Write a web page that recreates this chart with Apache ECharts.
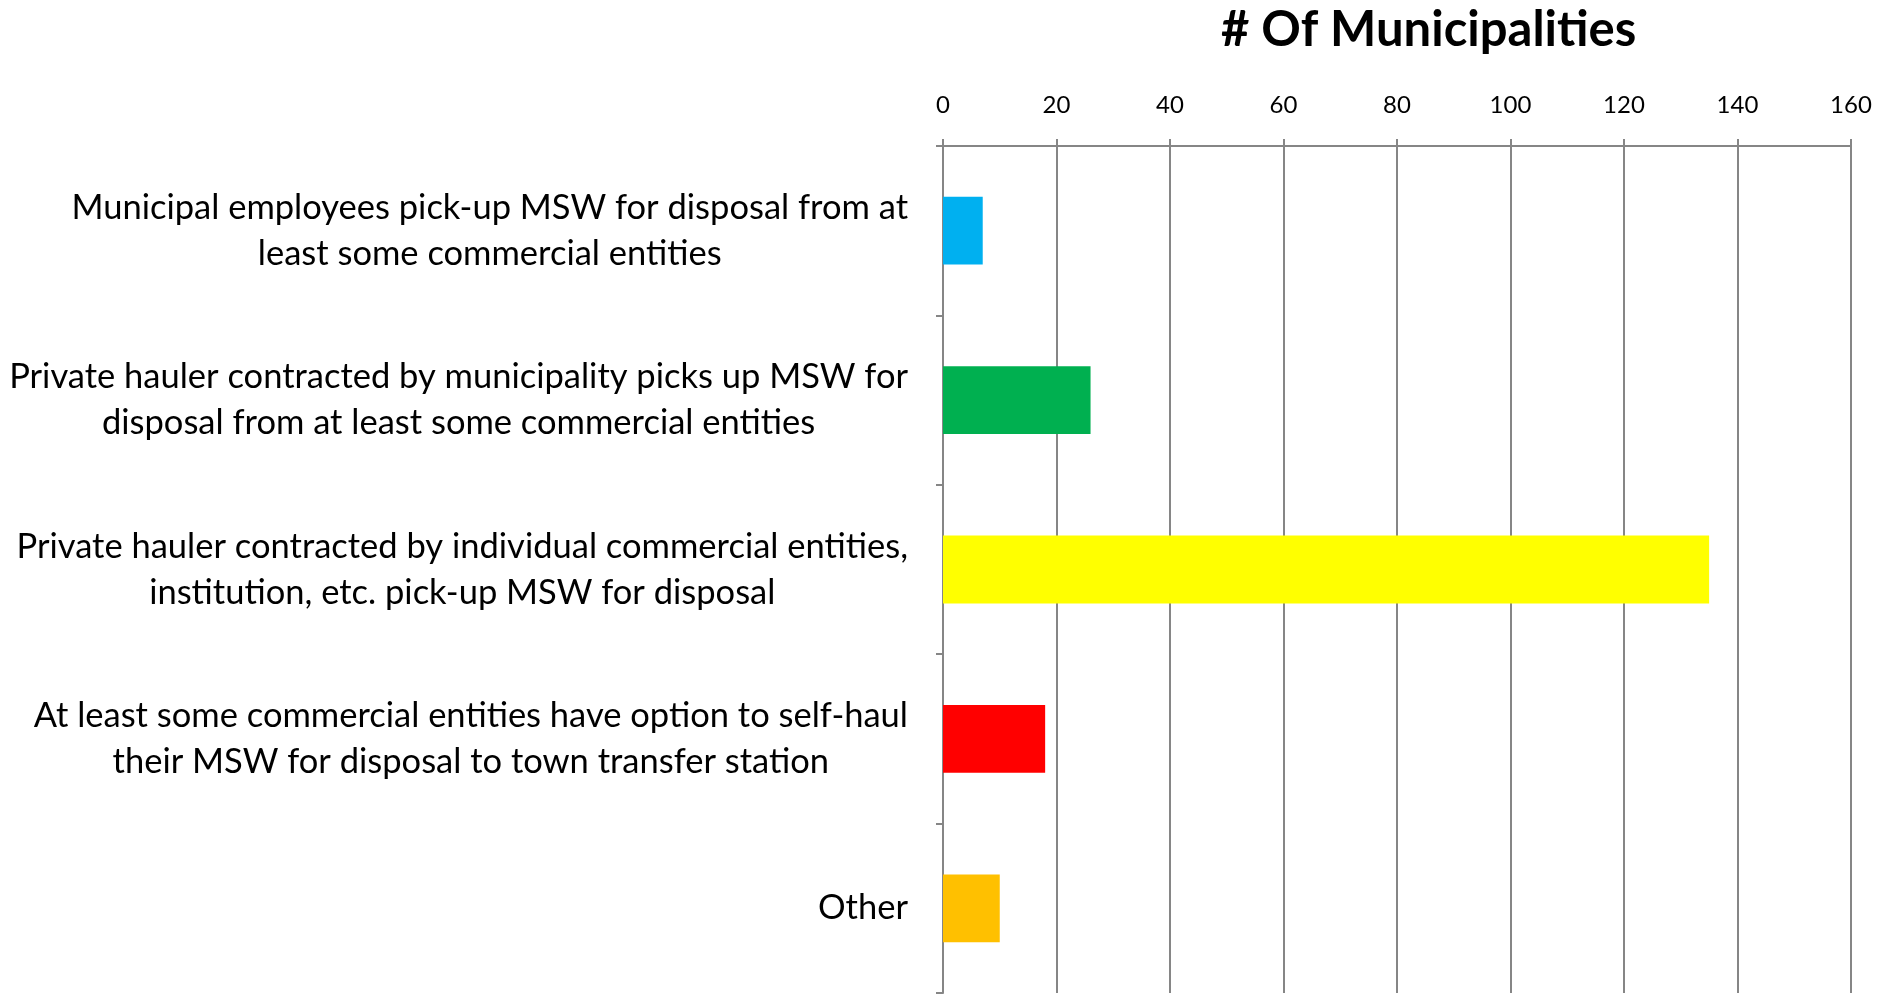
<!DOCTYPE html>
<html>
<head>
<meta charset="utf-8">
<script src="https://cdn.jsdelivr.net/npm/echarts@6/dist/echarts.min.js"></script>
<style>
    html, body { margin: 0; padding: 0; background: #fff; }
    #chart { width: 1892px; height: 994px; }
</style>
</head>
<body>
<div id="chart"></div>
<script>
var categories = [
    'Municipal employees pick-up MSW for disposal from at\nleast some commercial entities',
    'Private hauler contracted by municipality picks up MSW for\ndisposal from at least some commercial entities',
    'Private hauler contracted by individual commercial entities,\ninstitution, etc. pick-up MSW for disposal',
    'At least some commercial entities have option to self-haul\ntheir MSW for disposal to town transfer station',
    'Other'
];
var counts = [7, 26, 135, 18, 10];
var barColors = ['#00B0F0', '#00B050', '#FFFF00', '#FF0000', '#FFC000'];

var chart = echarts.init(document.getElementById('chart'));
var fontName = 'Lato';

var option = {
    animation: false,
    title: {
        text: '# Of Municipalities',
        left: 1216,
        top: 1,
        textStyle: {
            fontFamily: fontName,
            fontWeight: 'bold',
            fontSize: 49,
            color: '#000'
        }
    },
    grid: {
        left: 943,
        right: 41,
        top: 146,
        bottom: 1,
        containLabel: false
    },
    xAxis: {
        type: 'value',
        position: 'top',
        min: 0,
        max: 160,
        interval: 20,
        axisLine: { show: true, lineStyle: { color: '#868686', width: 2 } },
        axisTick: { show: true, length: 7, lineStyle: { color: '#868686', width: 2 } },
        axisLabel: { margin: 29, fontFamily: fontName, fontSize: 24, color: '#000' },
        splitLine: { show: true, lineStyle: { color: '#868686', width: 2 } }
    },
    yAxis: {
        type: 'category',
        inverse: true,
        data: categories,
        axisLine: { show: true, lineStyle: { color: '#868686', width: 2 } },
        axisTick: { show: true, length: 7, lineStyle: { color: '#868686', width: 2 } },
        axisLabel: {
            margin: 35,
            formatter: function (value) {
                return value.split('\n').map(function (s) { return '{c|' + s + '}'; }).join('\n');
            },
            rich: {
                c: {
                    align: 'center',
                    fontFamily: fontName,
                    fontSize: 34.5,
                    lineHeight: 46,
                    color: '#000'
                }
            }
        }
    },
    series: [{
        type: 'bar',
        barWidth: '40%',
        data: counts.map(function (v, i) {
            return { value: v, itemStyle: { color: barColors[i] } };
        })
    }]
};
chart.setOption(option);
</script>
</body>
</html>
